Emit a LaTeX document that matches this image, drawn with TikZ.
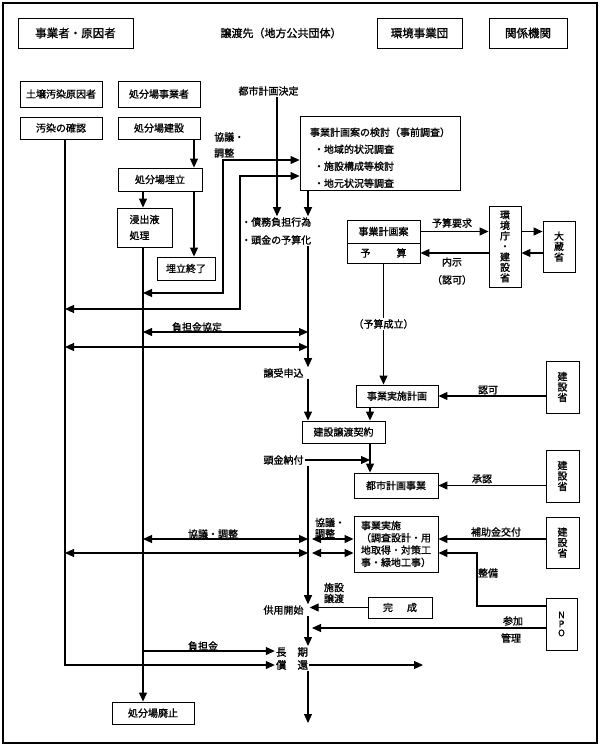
\documentclass[tikz,border=0pt]{standalone}
\usepackage{fontspec}
\setmainfont{Noto Sans CJK JP}[FakeBold=1.2]
\usetikzlibrary{arrows.meta}

\begin{document}
\begin{tikzpicture}[x=1pt,y=-1pt,
  box/.style={draw,line width=0.9pt,inner sep=1pt,align=center,font=\fontsize{10}{12}\selectfont},
  hbox/.style={box,minimum height=30pt,font=\fontsize{11.5}{13}\selectfont},
  vbox/.style={box,font=\fontsize{10}{10.5}\selectfont},
  txt/.style={inner sep=1pt,align=left,font=\fontsize{10}{12}\selectfont},
  arr/.style={line width=1.1pt,-{Triangle[length=9pt,width=8pt]}},
  dbl/.style={line width=1.1pt,{Triangle[length=9pt,width=8pt]}-{Triangle[length=9pt,width=8pt]}}]
\useasboundingbox (0,0) rectangle (600,747);
\draw[line width=1.3pt] (3,3) rectangle (597,743);

% header
\node[hbox,minimum width=115pt] (hdA) at (75.5,33) {事業者・原因者};
\node[txt,font=\fontsize{11}{13}\selectfont] (hdB) at (281,33) {譲渡先（地方公共団体）};
\node[hbox,minimum width=85pt] (hdC) at (419.5,33) {環境事業団};
\node[hbox,minimum width=78pt] (hdD) at (528,33) {関係機関};

% left column
\node[box,minimum width=82pt,minimum height=26pt] (soil) at (61,94) {土壌汚染原因者};
\node[box,minimum width=82pt,minimum height=26pt] (oper) at (159,94) {処分場事業者};
\node[box,minimum width=82pt,minimum height=22pt] (confirm) at (61,128) {汚染の確認};
\node[box,minimum width=82pt,minimum height=22pt] (build) at (159,128) {処分場建設};
\node[box,minimum width=84pt,minimum height=23pt] (pile) at (160,179.5) {処分場埋立};
\node[box,minimum width=55pt,minimum height=39pt,align=left,font=\fontsize{10}{16}\selectfont] (leach) at (144.5,227.5) {浸出液\\処理};
\node[box,minimum width=58pt,minimum height=23pt] (endfill) at (186,268.5) {埋立終了};
\node[box,minimum width=82pt,minimum height=22pt] (closeN) at (153,713) {処分場廃止};

% centre column
\node[txt] (cityDec) at (268.5,91) {都市計画決定};
\node[box,minimum width=160pt,minimum height=74pt,align=left,font=\fontsize{10}{17}\selectfont] (plan) at (380,153) {\rule{0pt}{18pt}事業計画案の検討（事前調査）\\\hspace{4pt}・地域的状況調査\\\hspace{4pt}・施設構成等検討\\\hspace{4pt}・地元状況等調査};
\node[txt,anchor=west,font=\fontsize{10}{16}\selectfont] (talk) at (213,145) {協議・\\調整};
\node[txt,anchor=west,font=\fontsize{10}{18}\selectfont] (debt) at (240,231) {・債務負担行為\\・頭金の予算化};
\node[txt] (req) at (283.5,373) {譲受申込};
\node[txt] (pay) at (283.5,460) {頭金納付};
\node[txt] (supply) at (283.5,610) {供用開始};
\node[txt,align=center,font=\fontsize{10.5}{13}\selectfont] (longT) at (292,658.5) {長\hspace{11pt}期\\償\hspace{11pt}還};
\node[box,minimum width=83pt,minimum height=22pt] (contract) at (343.5,432) {建設譲渡契約};

% right side
\node[box,minimum width=73pt,minimum height=23pt] (bplan) at (383.5,231.5) {事業計画案};
\node[box,minimum width=73pt,minimum height=20pt] (budget) at (383.5,253) {予\hspace{26pt}算};
\node[vbox,minimum width=32pt,minimum height=81pt] (agency) at (505,246.5) {環\\境\\庁\\・\\建\\設\\省};
\node[vbox,minimum width=32pt,minimum height=51pt] (mof) at (559,246.5) {大\\蔵\\省};
\node[box,minimum width=82pt,minimum height=22pt] (implan) at (397,396) {事業実施計画};
\node[vbox,minimum width=33pt,minimum height=52pt] (mlit1) at (562.5,387) {建\\設\\省};
\node[box,minimum width=84pt,minimum height=25pt] (cityproj) at (396,485.5) {都市計画事業};
\node[vbox,minimum width=33pt,minimum height=52pt] (mlit2) at (562.5,476) {建\\設\\省};
\node[box,minimum width=84pt,minimum height=56pt,align=left,font=\fontsize{10}{12.3}\selectfont] (exec) at (396,544) {事業実施\\（調査設計・用\\地取得・対策工\\事・緑地工事）};
\node[vbox,minimum width=33pt,minimum height=51pt] (mlit3) at (562.5,542.5) {建\\設\\省};
\node[box,minimum width=64pt,minimum height=21pt] (done) at (400,607.5) {完\hspace{14pt}成};
\node[vbox,minimum width=31pt,minimum height=52pt,font=\fontsize{9}{9}\selectfont] (npo) at (561.5,624) {N\\P\\O};

% labels
\node[txt] (lReq) at (452,223) {予算要求};
\node[txt,align=center,font=\fontsize{10}{18}\selectfont] (lNaiji) at (452,271) {内示\\（認可）};
\node[txt] (lNinka) at (488,390) {認可};
\node[txt] (lShonin) at (482,479) {承認};
\node[txt] (lHojo) at (496,532) {補助金交付};
\node[txt] (lSeibi) at (488,573) {整備};
\node[txt] (lSanka) at (513,621) {参加};
\node[txt] (lKanri) at (511,638) {管理};
\node[txt,font=\fontsize{10}{11}\selectfont] (lShisetsu) at (334,593) {施設\\譲渡};
\node[txt,font=\fontsize{10}{11}\selectfont] (lTalk2) at (330,528) {協議・\\調整};
\node[txt] (lTalk1) at (213,534) {協議・調整};
\node[txt] (lFutan) at (197,327) {負担金協定};
\node[txt] (lFutan2) at (203,646) {負担金};

% columns and rows
\coordinate (L1) at (65,0);
\coordinate (L2) at (143,0);
\coordinate (colP) at (194,0);
\coordinate (colA) at (308,0);
\coordinate (colA2) at (312,0);
\coordinate (colB) at (370,0);
\coordinate (kA) at (223,160);
\coordinate (kB) at (223,293);
\coordinate (kC) at (240,176);
\coordinate (kD) at (240,309);
\coordinate (kE) at (477,606);
\coordinate (rF) at (0,332);
\coordinate (rG) at (0,347);
\coordinate (rK) at (0,539);
\coordinate (rL) at (0,553);
\coordinate (rN) at (0,628);
\coordinate (rY) at (0,651);
\coordinate (rZ) at (0,665);
\coordinate (outR) at (423,665);
\coordinate (outD) at (308,723);

\draw[arr] (build.south -| colP) -- (pile.north -| colP);
\draw[arr] (pile.south -| L2) -- (leach.north -| L2);
\draw[arr] (pile.south -| colP) -- (endfill.north -| colP);
\draw[dbl] (kB -| L2) -- (kB) -- (kA) -- (kA -| plan.west);
\draw[dbl] (kD -| L1) -- (kD) -- (kC) -- (kC -| plan.west);
\draw[arr] ([xshift=8.5pt]cityDec.south) -- ([xshift=8.5pt]cityDec.south |- debt.north);
\draw[arr] (plan.south -| colA) -- (debt.north -| colA);
\draw[dbl] (rF -| L2) -- (rF -| colA);
\draw[dbl] (rG -| L1) -- (rG -| colA);
\draw[arr] (debt.south -| colA) -- (req.north -| colA);
\draw[arr] (req.south -| colA) -- (contract.north -| colA);
\draw[arr] (implan.south -| colB) -- (contract.north -| colB);
\draw[arr] (contract.south -| colB) -- (cityproj.north -| colB);
\draw[arr] (pay.east) -- (pay.east -| colB);
\draw[arr] (pay.south -| colA) -- (supply.north -| colA);
\draw[arr] (budget.south) -- node[txt,fill=white] (lSeiritsu) {（予算成立）} (budget.south |- implan.north);
\draw[arr] (bplan.east) -- (bplan.east -| agency.west);
\draw[arr] (bplan.east -| agency.east) -- (bplan.east -| mof.west);
\draw[arr] (budget.east -| mof.west) -- (budget.east -| agency.east);
\draw[arr] (budget.east -| agency.west) -- (budget.east);
\draw[arr] (implan.east -| mlit1.west) -- (implan.east);
\draw[arr] (cityproj.east -| mlit2.west) -- (cityproj.east);
\draw[dbl] (rK -| L2) -- (rK -| colA);
\draw[dbl] (rL -| L1) -- (rL -| colA);
\draw[dbl] (rK -| colA2) -- (rK -| exec.west);
\draw[dbl] (rL -| colA2) -- (rL -| exec.west);
\draw[arr] (rK -| mlit3.west) -- (rK -| exec.east);
\draw[arr] (kE -| npo.west) -- (kE) -- (kE |- rL) -- (rL -| exec.east);
\draw[arr] (done.west) -- ([xshift=5pt]supply.east |- done.west);
\draw[arr] (rN -| npo.west) -- (rN -| colA2);
\draw[arr] (supply.south -| colA) -- (longT.north -| colA);
\draw[arr] (rY -| L2) -- (rY -| longT.west);
\draw[arr] (confirm.south -| L1) -- (rZ -| L1) -- (rZ -| longT.west);
\draw[arr] (rZ -| longT.east) -- (outR);
\draw[arr] (longT.south -| colA) -- (outD);
\draw[arr] (leach.south -| L2) -- (closeN.north -| L2);
\end{tikzpicture}
\end{document}
